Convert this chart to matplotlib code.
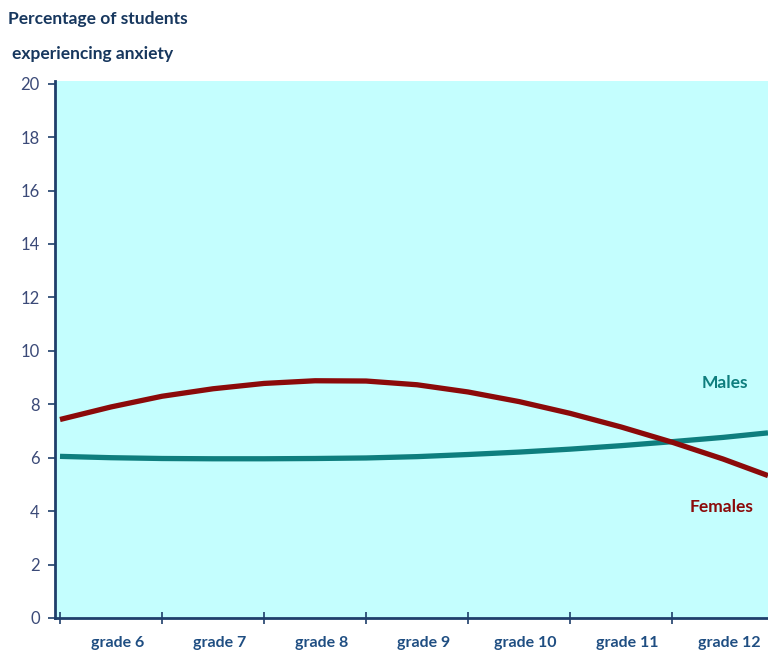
import matplotlib
matplotlib.use("Agg")
import matplotlib.pyplot as plt
import numpy as np

plt.rcParams['font.family'] = ['Lato', 'DejaVu Sans']

grades = ["grade 6", "grade 7", "grade 8", "grade 9", "grade 10", "grade 11", "grade 12"]

# positions along the category axis (0 = left edge of grade 6, 1 = boundary grade 6/7, ...)
pos = [0, 0.5, 1, 1.5, 2, 2.5, 3, 3.5, 4, 4.5, 5, 5.5, 6, 6.5, 6.94]
females = [7.43, 7.90, 8.30, 8.58, 8.78, 8.88, 8.87, 8.73, 8.46, 8.10, 7.66, 7.15, 6.58, 5.95, 5.33]
males = [6.05, 6.00, 5.97, 5.96, 5.96, 5.97, 5.99, 6.04, 6.12, 6.21, 6.32, 6.45, 6.60, 6.76, 6.93]

navy = "#1F3F6B"
fig = plt.figure(figsize=(7.68, 6.52), dpi=100)
ax = fig.add_axes([55/768, 1-618/652, 1-55/768, (618-81)/652])
ax.set_facecolor("#C4FEFE")

ax.plot(pos, males, color="#0E7E7E", lw=3.8, solid_capstyle="butt")
ax.plot(pos, females, color="#8B0A0A", lw=3.8, solid_capstyle="butt")

ax.set_xlim(-0.049, 6.94)
ax.set_ylim(0, 20.1)
ax.set_yticks(range(0, 21, 2))
ax.tick_params(axis="y", direction="out", length=5, width=1.2, color=navy,
               labelsize=12, labelcolor="#3B4A78", pad=6)

ax.set_xticks(range(7))
ax.set_xticklabels([])
ax.tick_params(axis="x", which="major", direction="inout", length=9, width=1.2, color=navy)
ax.set_xticks(np.arange(7) + 0.56, minor=True)
ax.set_xticklabels(grades, minor=True, fontsize=11.5, fontweight="bold", color="#1F4E82")
ax.tick_params(axis="x", which="minor", length=0, pad=13)

for s in ["top", "right"]:
    ax.spines[s].set_visible(False)
for s in ["left", "bottom"]:
    ax.spines[s].set_color(navy)
    ax.spines[s].set_linewidth(2)

ax.text(6.52, 8.79, "Males", color="#0E7E7E", fontsize=12.5, fontweight="bold", ha="center", va="center")
ax.text(6.48, 4.15, "Females", color="#8B0A0A", fontsize=12.5, fontweight="bold", ha="center", va="center")

fig.text(8/768, 1-19/652, "Percentage of students", fontsize=12.5, fontweight="bold",
         color="#17375E", ha="left", va="center")
fig.text(12/768, 1-54/652, "experiencing anxiety", fontsize=12.5, fontweight="bold",
         color="#17375E", ha="left", va="center")

fig.savefig("out.png", dpi=100)
